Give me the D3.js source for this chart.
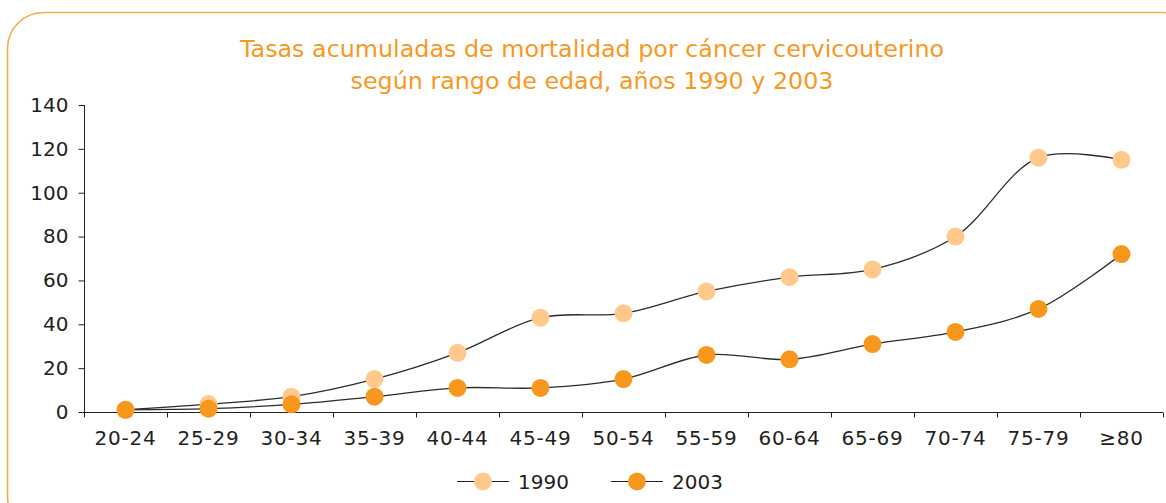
<!DOCTYPE html>
<html>
<head>
<meta charset="utf-8">
<script src="https://cdn.jsdelivr.net/npm/d3@7"></script>
<style>
  html, body { margin: 0; padding: 0; background: #fff; }
  svg { display: block; }
  text { font-family: "DejaVu Sans", sans-serif; }
</style>
</head>
<body>
<script>
// Age groups on the x axis
const categories = ["20-24", "25-29", "30-34", "35-39", "40-44", "45-49", "50-54",
                    "55-59", "60-64", "65-69", "70-74", "75-79", "≥80"];
// Cumulative cervical cancer mortality rates per age group
const values1990 = [1, 3.6, 7, 15, 27, 43, 45, 55, 61.5, 65, 80, 116, 115];
const values2003 = [1, 1.5, 3.5, 7, 11, 11, 15, 26, 24, 31, 36.5, 47, 72];
const yTicks = [0, 20, 40, 60, 80, 100, 120, 140];
const seriesNames = ["1990", "2003"];
const titleLines = ["Tasas acumuladas de mortalidad por cáncer cervicouterino",
                    "según rango de edad, años 1990 y 2003"];

const W = 1166, H = 503;
const margin = { left: 84, right: 3, top: 105, bottom: 91 };
const colors = { "1990": "#FFC98B", "2003": "#F7971E" };
const orange = "#F7981F";
const ink = "#231f20";

const svg = d3.select("body").append("svg").attr("width", W).attr("height", H);

// Rounded frame
svg.append("rect")
  .attr("x", 7.5).attr("y", 12.5)
  .attr("width", 1190).attr("height", 520)
  .attr("rx", 36).attr("ry", 36)
  .attr("fill", "none").attr("stroke", "#F9A94B").attr("stroke-width", 1.6);

// Title
svg.append("text")
  .attr("x", 592).attr("y", 57)
  .attr("text-anchor", "middle")
  .attr("fill", orange)
  .style("font-size", "23.8px")
  .selectAll("tspan").data(titleLines).join("tspan")
  .attr("x", 592).attr("dy", (d, i) => i === 0 ? 0 : 32)
  .text(d => d);

const x = d3.scaleBand().domain(categories)
  .range([margin.left, W - margin.right]).padding(0);
const y = d3.scaleLinear().domain([0, 140]).range([H - margin.bottom, margin.top]);

const gx = svg.append("g").attr("transform", `translate(0,${y(0) + 0.5})`);
gx.call(d3.axisBottom(x).tickSize(0).tickPadding(18));
gx.select(".domain").remove();
gx.selectAll("text").attr("fill", ink).style("font-size", "20px").style("letter-spacing", "0.8px");
// axis line and boundary ticks
gx.append("line").attr("x1", margin.left).attr("x2", W - margin.right)
  .attr("stroke", ink).attr("stroke-width", 1);
const bounds = categories.map(c => x(c)).concat([x(categories[categories.length - 1]) + x.bandwidth()]);
gx.selectAll(".btick").data(bounds).join("line").attr("class", "btick")
  .attr("x1", d => Math.round(d) + 0.5).attr("x2", d => Math.round(d) + 0.5)
  .attr("y1", 0).attr("y2", 5).attr("stroke", ink);

const gy = svg.append("g").attr("transform", `translate(${margin.left + 0.5},0)`);
gy.call(d3.axisLeft(y).tickValues(yTicks).tickSize(6).tickPadding(10).tickFormat(d3.format("d")));
gy.select(".domain").attr("stroke", ink).attr("d", `M0,${y(140)}V${y(0)}`);
gy.selectAll(".tick line").attr("stroke", ink);
gy.selectAll("text").attr("fill", ink).style("font-size", "20px");

const cx = d => x(d) + x.bandwidth() / 2;
const line = d3.line().x(d => cx(d[0])).y(d => y(d[1])).curve(d3.curveCatmullRom.alpha(0.5));

const series = [
  { name: "1990", vals: values1990 },
  { name: "2003", vals: values2003 }
];

series.forEach(s => {
  const pts = categories.map((c, i) => [c, s.vals[i]]);
  svg.append("path").datum(pts)
    .attr("d", line).attr("fill", "none")
    .attr("stroke", "#2b2b2b").attr("stroke-width", 1.3);
});
series.forEach(s => {
  const pts = categories.map((c, i) => [c, s.vals[i]]);
  svg.append("g").selectAll("circle").data(pts).join("circle")
    .attr("cx", d => cx(d[0])).attr("cy", d => y(d[1]))
    .attr("r", 9).attr("fill", colors[s.name]);
});

// Legend
const legend = svg.append("g").attr("transform", "translate(0,481.5)");
const legendX = [457, 611];
seriesNames.forEach((n, i) => {
  const g = legend.append("g").attr("transform", `translate(${legendX[i]},0)`);
  g.append("line").attr("x1", 0).attr("x2", 52).attr("stroke", ink).attr("stroke-width", 1.2);
  g.append("circle").attr("cx", 26).attr("r", 9).attr("fill", colors[n]);
  g.append("text").attr("x", 61).attr("y", 7.5).attr("fill", ink)
    .style("font-size", "20px").text(n);
});
</script>
</body>
</html>
